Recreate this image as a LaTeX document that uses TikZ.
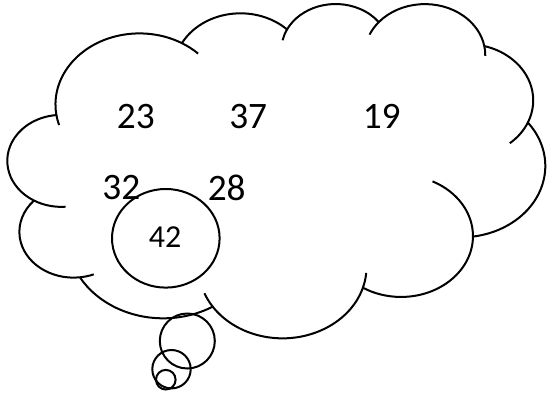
\documentclass[tikz,border=0pt]{standalone}
\usepackage{fontspec}
\setmainfont{Carlito}
\tikzset{every picture/.style={line width=1.5pt}}
\tikzset{
  numlabel/.style={inner sep=0.75pt, font=\fontsize{28}{34}\selectfont},
  smalllabel/.style={inner sep=0.75pt, font=\fontsize{24}{29}\selectfont},
  cloudline/.style={line join=round, line cap=butt}
}

\begin{document}
\begin{tikzpicture}[x=0.75pt,y=0.75pt,yscale=-1,xscale=1]
%set diagram left start at 0, and has height of 398
\useasboundingbox (0,0) rectangle (548,398);

%Shape: Cloud [id:cl01]
\draw [cloudline] (56.25,114.09) coordinate (j0)
  arc [start angle=-187.75, end angle=-59.64, x radius=84.00, y radius=71.09] coordinate (j1)
  arc [start angle=-152.02, end angle=-45.45, x radius=66.33, y radius=56.22] coordinate (j2)
  arc [start angle=-153.48, end angle=-37.32, x radius=54.29, y radius=45.99] coordinate (j3)
  arc [start angle=-139.71, end angle=-10.22, x radius=60.41, y radius=51.02] coordinate (j4)
  arc [start angle=-74.77, end angle=23.21, x radius=66.33, y radius=56.26] coordinate (j5)
  arc [start angle=-37.53, end angle=81.86, x radius=84.27, y radius=71.33] coordinate (j6)
  arc [start angle=0.46, end angle=121.99, x radius=71.95, y radius=60.86] coordinate (j7)
  arc [start angle=16.85, end angle=146.25, x radius=83.98, y radius=71.29] coordinate (j8)
  arc [start angle=58.98, end angle=150.18, x radius=96.02, y radius=81.56] coordinate (j9)
  arc [start angle=83.31, end angle=223.12, x radius=54.23, y radius=45.78] coordinate (j10)
  arc [start angle=120.35, end angle=264.11, x radius=54.04, y radius=45.99] -- cycle ;
%Shape: Arc [id:cl02] inner curls of the cloud
\draw [cloudline] (j10) arc [start angle=120.35, end angle=85.55, x radius=54.04, y radius=45.99] ;
\draw [cloudline] (j9) arc [start angle=83.31, end angle=68.23, x radius=54.23, y radius=45.78] ;
\draw [cloudline] (j8) arc [start angle=146.25, end angle=158.47, x radius=83.98, y radius=71.29] ;
\draw [cloudline] (j7) arc [start angle=16.85, end angle=4.74, x radius=83.98, y radius=71.29] ;
\draw [cloudline] (j6) arc [start angle=0.46, end angle=-64.02, x radius=71.95, y radius=60.86] ;
\draw [cloudline] (j5) arc [start angle=23.21, end angle=49.64, x radius=66.33, y radius=56.26] ;
\draw [cloudline] (j4) arc [start angle=-10.22, end angle=0.82, x radius=60.41, y radius=51.02] ;
\draw [cloudline] (j3) arc [start angle=-139.71, end angle=-156.29, x radius=60.41, y radius=51.02] ;
\draw [cloudline] (j2) arc [start angle=-153.48, end angle=-167.72, x radius=54.29, y radius=45.99] ;
\draw [cloudline] (j1) arc [start angle=-59.64, end angle=-45.74, x radius=84.00, y radius=71.09] ;
\draw [cloudline] (j0) arc [start angle=172.25, end angle=163.20, x radius=84.00, y radius=71.09] ;

%Shape: Ellipse [id:el01]
\draw   (165.8,238.3) ellipse [x radius=53.8, y radius=49.3] ;
%Shape: Circle [id:ci01]
\draw   (187.3,341) circle [radius=27.5] ;
%Shape: Circle [id:ci02]
\draw   (171.5,369.2) circle [radius=19.2] ;
%Shape: Circle [id:ci03]
\draw   (165.8,379.7) circle [radius=9.8] ;

% Text Node
\draw (135.8,116.5) node (n23) [numlabel] {23};
% Text Node
\draw (248.2,116.5) node (n37) [numlabel] {37};
% Text Node
\draw (381.7,116.5) node (n19) [numlabel] {19};
% Text Node
\draw (121.3,187.5) node (n32) [numlabel] {32};
% Text Node
\draw (226.7,187.5) node (n28) [numlabel] {28};
% Text Node
\draw (165,236.7) node (n42) [smalllabel] {42};

\end{tikzpicture}
\end{document}
